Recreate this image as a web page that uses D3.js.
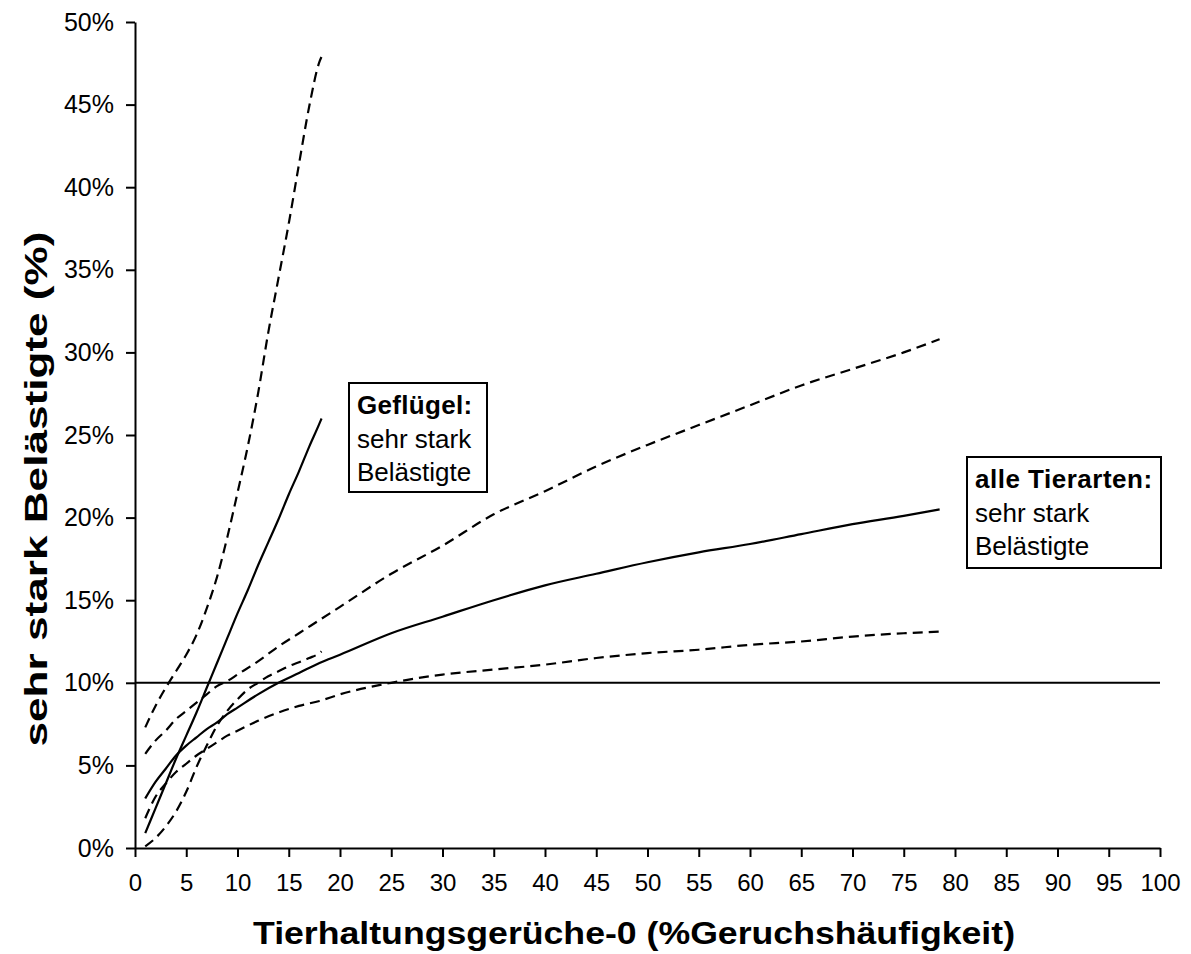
<!DOCTYPE html>
<html>
<head>
<meta charset="utf-8">
<script src="https://cdn.jsdelivr.net/npm/d3@7"></script>
<style>
  body { margin: 0; background: #fff; }
  text { font-family: "Liberation Sans", Arial, sans-serif; fill: #000; }
</style>
</head>
<body>
<svg id="chart" width="1191" height="954"></svg>
<script>
// Axis ticks
const xTicks = d3.range(0, 101, 5);
const yTicks = [0, 5, 10, 15, 20, 25, 30, 35, 40, 45, 50];

// Reference level (10 %)
const threshold = [[0, 10], [100, 10]];

// Geflügel: share of strongly annoyed residents [odour frequency %, annoyed %]
const poultryMean = [[1,0.9],[2,2.4],[3,3.9],[4,5.4],[5,6.8],[6,8.2],[7,9.7],[8,11.2],[9,12.7],[10,14.2],
  [11,15.6],[12,17.1],[13,18.5],[14,19.9],[15,21.4],[16,22.8],[17,24.3],[18,25.7],[18.2,26.0]];
const poultryUpper = [[1,7.3],[2,8.6],[3,9.7],[4,10.7],[5,11.7],[6,12.9],[7,14.5],[8,16.4],[9,18.8],[10,21.5],
  [11,24.3],[12,27.5],[13,31.2],[14,34.5],[15,37.8],[16,41.4],[17,44.9],[18,47.6],[18.2,47.9]];
const poultryLower = [[1,0.1],[2,0.6],[3,1.3],[4,2.2],[5,3.4],[6,4.9],[7,6.2],[8,7.4],[9,8.3],[10,9.0],
  [11,9.6],[12,10.0],[13,10.4],[14,10.7],[15,11.0],[16,11.25],[17,11.5],[18,11.8],[18.2,11.9]];

// Alle Tierarten
const allMean = [[1,3.0],[2,4.0],[3,4.8],[4,5.6],[5,6.2],[6,6.7],[7,7.2],[8,7.6],[9,8.1],[10,8.5],[12,9.3],
  [14,10.0],[16,10.6],[18,11.2],[20,11.7],[25,13.0],[30,14.0],[35,15.0],[40,15.9],[45,16.6],[50,17.3],
  [55,17.9],[60,18.4],[65,19.0],[70,19.6],[75,20.1],[78.5,20.5]];
const allUpper = [[1,5.7],[2,6.5],[3,7.1],[4,7.8],[5,8.3],[6,8.8],[7,9.3],[8,9.8],[9,10.1],[10,10.5],[12,11.3],
  [14,12.2],[16,13.0],[18,13.8],[20,14.6],[25,16.6],[30,18.3],[35,20.2],[40,21.6],[45,23.1],[50,24.4],
  [55,25.6],[60,26.8],[65,28.0],[70,29.0],[75,30.0],[78.5,30.8]];
const allLower = [[1,1.8],[2,3.1],[3,3.9],[4,4.6],[5,5.1],[6,5.6],[7,6.0],[8,6.4],[9,6.8],[10,7.1],[12,7.7],
  [14,8.2],[16,8.6],[18,8.9],[20,9.3],[25,10.0],[30,10.5],[35,10.8],[40,11.1],[45,11.5],[50,11.8],
  [55,12.0],[60,12.3],[65,12.5],[70,12.8],[75,13.0],[78.5,13.1]];

const seriesList = [
  { data: poultryUpper, dashed: true },
  { data: poultryMean, dashed: false },
  { data: poultryLower, dashed: true },
  { data: allUpper, dashed: true },
  { data: allMean, dashed: false },
  { data: allLower, dashed: true }
];

const svg = d3.select("#chart");
const x = d3.scaleLinear().domain([0, 100]).range([135, 1160]);
const y = d3.scaleLinear().domain([0, 50]).range([848, 22]);

// Axes
const xAxis = svg.append("g").attr("transform", `translate(0,${y(0)})`)
  .call(d3.axisBottom(x).tickValues(xTicks).tickSize(9).tickSizeOuter(0).tickPadding(17));
const yAxis = svg.append("g").attr("transform", `translate(${x(0)},0)`)
  .call(d3.axisLeft(y).tickValues(yTicks).tickSize(9).tickSizeOuter(0).tickPadding(12)
    .tickFormat(d => d + "%"));
[xAxis, yAxis].forEach(g => {
  g.selectAll("path, line").attr("stroke", "#000").attr("stroke-width", 2);
  g.selectAll("text").attr("fill", "#000")
    .style("font-family", '"Liberation Sans", Arial, sans-serif');
});
xAxis.selectAll("text").attr("font-size", 24);
yAxis.selectAll("text").attr("font-size", 25);

// 10 % reference line
const line = d3.line().x(d => x(d[0])).y(d => y(d[1]));
svg.append("path").datum(threshold).attr("d", line)
  .attr("fill", "none").attr("stroke", "#000").attr("stroke-width", 2);

// Curves
const curveLine = d3.line().x(d => x(d[0])).y(d => y(d[1])).curve(d3.curveMonotoneX);
svg.append("g").selectAll("path").data(seriesList).join("path")
  .attr("d", s => curveLine(s.data))
  .attr("fill", "none").attr("stroke", "#000").attr("stroke-width", 2.2)
  .attr("stroke-dasharray", s => s.dashed ? "10,6" : null);

// Label boxes
function labelBox(x0, y0, w, h, lines, spacing) {
  const g = svg.append("g");
  g.append("rect").attr("x", x0).attr("y", y0).attr("width", w).attr("height", h)
    .attr("fill", "#fff").attr("stroke", "#000").attr("stroke-width", 2);
  lines.forEach((l, i) => {
    g.append("text").attr("x", x0 + 8).attr("y", y0 + 31 + i * 33.5)
      .attr("font-size", 26)
      .attr("font-weight", i === 0 ? "bold" : "normal")
      .attr("letter-spacing", i === 0 ? spacing : 0)
      .text(l);
  });
}
labelBox(349, 383, 138, 109, ["Geflügel:", "sehr stark", "Belästigte"], 0.3);
labelBox(967, 457, 194, 111, ["alle Tierarten:", "sehr stark", "Belästigte"], 0.5);

// Axis titles
svg.append("text").attr("x", 634).attr("y", 944).attr("text-anchor", "middle")
  .attr("font-size", 32).attr("font-weight", "bold")
  .attr("textLength", 762).attr("lengthAdjust", "spacingAndGlyphs")
  .text("Tierhaltungsgerüche-0 (%Geruchshäufigkeit)");
svg.append("text").attr("transform", "translate(47,489) rotate(-90)")
  .attr("text-anchor", "middle").attr("font-size", 32).attr("font-weight", "bold")
  .attr("textLength", 515).attr("lengthAdjust", "spacingAndGlyphs")
  .text("sehr stark Belästigte (%)");
</script>
</body>
</html>
